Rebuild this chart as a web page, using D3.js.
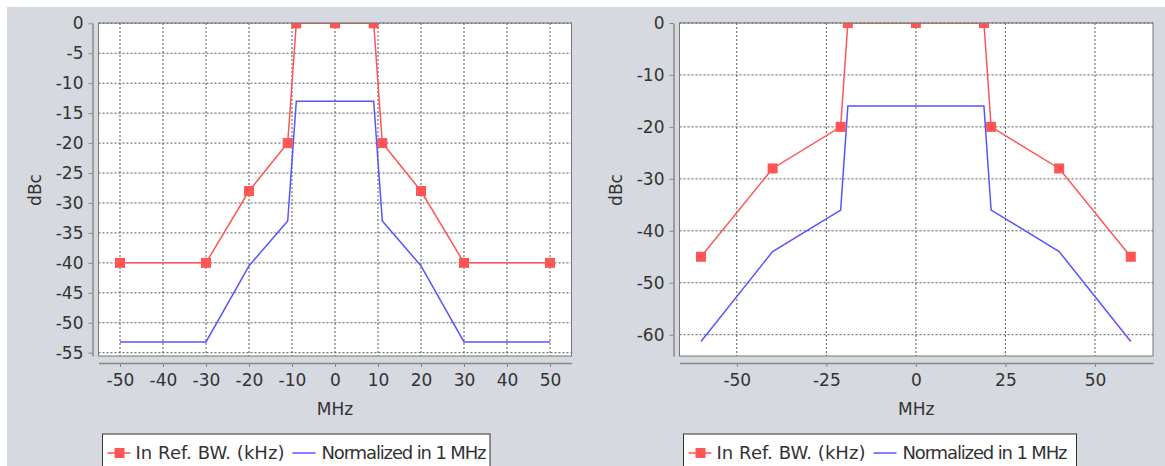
<!DOCTYPE html>
<html>
<head>
<meta charset="utf-8">
<script src="https://cdn.jsdelivr.net/npm/d3@7"></script>
<style>
  body { margin: 0; background: #fff; }
  svg { display: block; font-family: "DejaVu Sans", sans-serif; }
</style>
</head>
<body>
<div id="chart"></div>
<script>
// left chart data
const leftFreq = [-50, -30, -20, -11, -9, 0, 9, 11, 20, 30, 50]
const leftRefBW = [-40, -40, -28, -20, 0, 0, 0, -20, -28, -40, -40]
const leftNormFreq = [-50, -30, -20, -11, -9, 9, 11, 20, 30, 50]
const leftNorm = [-53.2, -53.2, -40.5, -33, -13, -13, -33, -40.5, -53.2, -53.2]
const leftXTicks = [-50, -40, -30, -20, -10, 0, 10, 20, 30, 40, 50]
const leftYTicks = [0, -5, -10, -15, -20, -25, -30, -35, -40, -45, -50, -55]

// right chart data
const rightFreq = [-60, -40, -21, -19, 0, 19, 21, 40, 60]
const rightRefBW = [-45, -28, -20, 0, 0, 0, -20, -28, -45]
const rightNormFreq = [-60, -40, -21, -19, 19, 21, 40, 60]
const rightNorm = [-61.3, -44, -36, -16, -16, -36, -44, -61.3]
const rightXTicks = [-50, -25, 0, 25, 50]
const rightYTicks = [0, -10, -20, -30, -40, -50, -60]

const seriesNames = ['In Ref. BW. (kHz)', 'Normalized in 1 MHz']
const red = '#ff5555'
const blue = '#5555ff'
const textColor = '#333'

const W = 1165, H = 466

const svg = d3.select('#chart').append('svg')
    .attr('width', W)
    .attr('height', H)

svg.append('rect')
    .attr('x', 7).attr('y', 7)
    .attr('width', W - 7).attr('height', H - 7)
    .attr('fill', '#d6d9df')

function drawChart(cfg, id){
    const x = d3.scaleLinear().domain(cfg.xDomain).range([cfg.left, cfg.right])
    const y = d3.scaleLinear().domain(cfg.yDomain).range([cfg.bottom, cfg.top])

    const g = svg.append('g')

    // plot background
    g.append('rect')
        .attr('x', cfg.left).attr('y', cfg.top)
        .attr('width', cfg.right - cfg.left).attr('height', cfg.bottom - cfg.top)
        .attr('fill', '#fff')

    // grid
    g.append('g').selectAll('line')
        .data(cfg.xTicks)
        .join('line')
        .attr('x1', d => x(d)).attr('x2', d => x(d))
        .attr('y1', cfg.top).attr('y2', cfg.bottom)
        .attr('stroke', '#555').attr('stroke-dasharray', '2,2')
    g.append('g').selectAll('line')
        .data(cfg.yTicks)
        .join('line')
        .attr('x1', cfg.left).attr('x2', cfg.right)
        .attr('y1', d => y(d)).attr('y2', d => y(d))
        .attr('stroke', '#555').attr('stroke-dasharray', '2,2')

    g.append('clipPath').attr('id', id)
        .append('rect')
        .attr('x', cfg.left).attr('y', cfg.top)
        .attr('width', cfg.right - cfg.left).attr('height', cfg.bottom - cfg.top)

    const plot = g.append('g').attr('clip-path', `url(#${id})`)
    const line = d3.line().x(d => x(d[0])).y(d => y(d[1]))

    const normPts = cfg.normFreq.map((f, i) => [f, cfg.norm[i]])
    plot.append('path')
        .attr('d', line(normPts))
        .attr('fill', 'none').attr('stroke', blue).attr('stroke-width', 1.5)

    const refPts = cfg.freq.map((f, i) => [f, cfg.refBW[i]])
    plot.append('path')
        .attr('d', line(refPts))
        .attr('fill', 'none').attr('stroke', red).attr('stroke-width', 1.5)
    plot.selectAll('rect.pt')
        .data(refPts)
        .join('rect')
        .attr('class', 'pt')
        .attr('x', d => x(d[0]) - 5).attr('y', d => y(d[1]) - 5)
        .attr('width', 10).attr('height', 10)
        .attr('fill', red)

    // plot border
    g.append('rect')
        .attr('x', cfg.left).attr('y', cfg.top)
        .attr('width', cfg.right - cfg.left).attr('height', cfg.bottom - cfg.top)
        .attr('fill', 'none').attr('stroke', '#777')

    // axes (plain hyphen minus like the original)
    const fmt = d => String(d)
    const yAxis = g.append('g')
        .attr('transform', `translate(${cfg.left - 6},0)`)
        .call(d3.axisLeft(y).tickValues(cfg.yTicks).tickFormat(fmt).tickSize(4).tickSizeOuter(0).tickPadding(5))
    const xAxis = g.append('g')
        .attr('transform', `translate(0,${cfg.bottom + 7})`)
        .call(d3.axisBottom(x).tickValues(cfg.xTicks).tickFormat(fmt).tickSize(4).tickSizeOuter(0).tickPadding(7))
    for (const ax of [xAxis, yAxis]){
        ax.select('.domain').attr('stroke', '#888').attr('stroke-width', 1.5)
        ax.selectAll('.tick line').attr('stroke', '#888')
        ax.selectAll('.tick text')
            .attr('fill', textColor)
            .style('font-size', '17px')
            .style('font-family', '"DejaVu Sans", sans-serif')
    }

    // axis titles
    g.append('text')
        .attr('x', (cfg.left + cfg.right) / 2).attr('y', 415)
        .attr('text-anchor', 'middle')
        .attr('fill', textColor).style('font-size', '17px')
        .text('MHz')
    g.append('text')
        .attr('transform', `translate(${cfg.yTitleX},190) rotate(-90)`)
        .attr('text-anchor', 'middle')
        .attr('fill', textColor).style('font-size', '17px')
        .text('dBc')

    // legend
    const lg = g.append('g').attr('transform', `translate(${cfg.legendX},434)`)
    lg.append('rect')
        .attr('x', 0).attr('y', 0)
        .attr('width', cfg.legendW).attr('height', 40)
        .attr('fill', '#fff').attr('stroke', '#333')
    lg.append('line')
        .attr('x1', 5).attr('x2', 28).attr('y1', 19).attr('y2', 19)
        .attr('stroke', red).attr('stroke-width', 1.5)
    lg.append('rect')
        .attr('x', 12).attr('y', 14).attr('width', 10).attr('height', 10)
        .attr('fill', red)
    lg.append('text')
        .attr('x', 33).attr('y', 25)
        .attr('fill', textColor).style('font-size', '18px')
        .attr('textLength', 149).attr('lengthAdjust', 'spacing')
        .text(seriesNames[0])
    lg.append('line')
        .attr('x1', 190).attr('x2', 213).attr('y1', 19).attr('y2', 19)
        .attr('stroke', blue).attr('stroke-width', 1.5)
    lg.append('text')
        .attr('x', 219).attr('y', 25)
        .attr('fill', textColor).style('font-size', '18px')
        .attr('textLength', 165).attr('lengthAdjust', 'spacing')
        .text(seriesNames[1])
}

drawChart({
    left: 98.5, right: 571.5, top: 23, bottom: 356,
    xDomain: [-55, 55], yDomain: [-55.55, 0.05],
    xTicks: leftXTicks, yTicks: leftYTicks,
    freq: leftFreq, refBW: leftRefBW, normFreq: leftNormFreq, norm: leftNorm,
    yTitleX: 41, legendX: 102.5, legendW: 387.5
}, 'clipL')

drawChart({
    left: 679.5, right: 1153, top: 23, bottom: 356,
    xDomain: [-66, 66.2], yDomain: [-64.1, 0],
    xTicks: rightXTicks, yTicks: rightYTicks,
    freq: rightFreq, refBW: rightRefBW, normFreq: rightNormFreq, norm: rightNorm,
    yTitleX: 622, legendX: 683.5, legendW: 393
}, 'clipR')
</script>
</body>
</html>
